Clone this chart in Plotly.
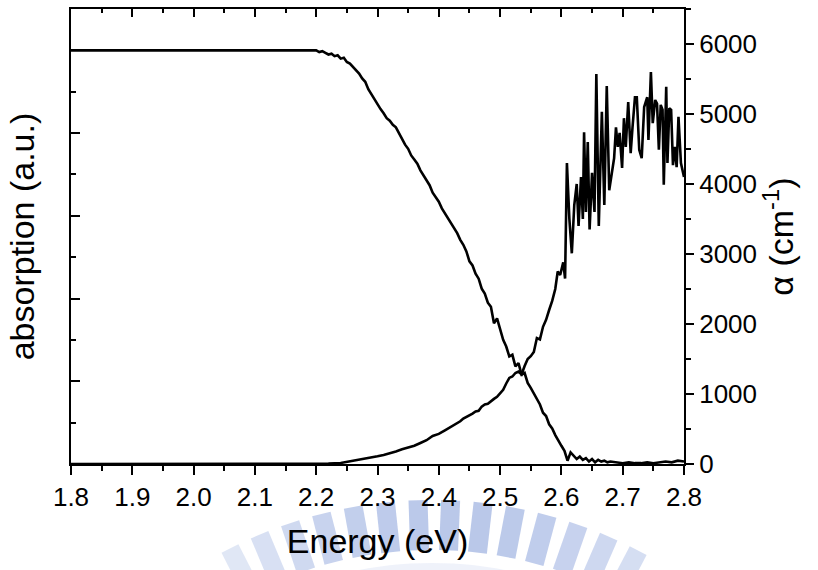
import math
import plotly.graph_objects as go

# ---------------- data ----------------
# absorption (a.u., left axis)
abs_energy = [1.80, 2.195,
              2.200, 2.205, 2.210, 2.215, 2.220, 2.225, 2.230, 2.235, 2.240, 2.245,
              2.250, 2.255, 2.260, 2.265, 2.270, 2.275, 2.280, 2.285, 2.290, 2.295,
              2.300, 2.305, 2.310, 2.315, 2.320, 2.325, 2.330, 2.335, 2.340, 2.345,
              2.350, 2.355, 2.360, 2.365, 2.370, 2.375, 2.380, 2.385, 2.390, 2.395,
              2.400, 2.405, 2.410, 2.415, 2.420, 2.425, 2.430, 2.435, 2.440, 2.445,
              2.450, 2.455, 2.460, 2.465, 2.470, 2.475, 2.480, 2.485, 2.490, 2.495,
              2.500, 2.505, 2.510, 2.515, 2.520, 2.525, 2.530, 2.535, 2.540, 2.545,
              2.550, 2.555, 2.560, 2.565, 2.570, 2.575, 2.580, 2.585, 2.590, 2.595,
              2.600, 2.605, 2.610, 2.615, 2.620, 2.625, 2.630, 2.635, 2.640, 2.645,
              2.650, 2.655, 2.660, 2.665, 2.670, 2.675, 2.680, 2.690, 2.700, 2.710,
              2.720, 2.730, 2.740, 2.750, 2.760, 2.770, 2.780, 2.790, 2.800]
abs_value = [5.00, 5.00,
             5.00, 4.98, 4.99, 4.97, 4.95, 4.96, 4.93, 4.94, 4.90, 4.91,
             4.86, 4.84, 4.80, 4.76, 4.72, 4.66, 4.62, 4.53, 4.47, 4.40,
             4.35, 4.29, 4.24, 4.18, 4.15, 4.10, 4.07, 4.00, 3.92, 3.86,
             3.81, 3.73, 3.68, 3.63, 3.55, 3.49, 3.42, 3.37, 3.28, 3.23,
             3.17, 3.09, 3.03, 2.96, 2.91, 2.84, 2.79, 2.71, 2.65, 2.57,
             2.45, 2.40, 2.30, 2.24, 2.12, 2.06, 1.95, 1.90, 1.70, 1.76,
             1.62, 1.50, 1.42, 1.30, 1.32, 1.18, 1.22, 1.08, 1.10, 0.98,
             0.92, 0.85, 0.78, 0.72, 0.62, 0.58, 0.48, 0.43, 0.35, 0.28,
             0.22, 0.16, 0.04, 0.14, 0.10, 0.06, 0.09, 0.05, 0.07, 0.03,
             0.06, 0.02, 0.05, 0.03, 0.04, 0.02, 0.03, 0.02, 0.01, 0.02,
             0.01, 0.01, 0.02, 0.01, 0.02, 0.03, 0.02, 0.04, 0.03]

# absorption coefficient alpha (cm^-1, right axis)
alpha_energy = [1.80, 2.20, 2.22, 2.24, 2.25, 2.26, 2.27, 2.28, 2.29, 2.30,
                2.31, 2.32, 2.33, 2.34, 2.35, 2.36, 2.37, 2.38, 2.39, 2.40,
                2.41, 2.42, 2.43, 2.435, 2.44, 2.445, 2.45, 2.455, 2.46, 2.465,
                2.47, 2.475, 2.48, 2.485, 2.49, 2.495, 2.50, 2.505, 2.51, 2.515,
                2.52, 2.525, 2.53, 2.535, 2.54, 2.545, 2.55, 2.555, 2.56, 2.565,
                2.57, 2.575, 2.58, 2.585, 2.59, 2.594, 2.598, 2.603, 2.606, 2.609,
                2.613, 2.617, 2.621, 2.625, 2.628, 2.632, 2.635, 2.637, 2.640, 2.643,
                2.646, 2.650, 2.654, 2.657, 2.661, 2.666, 2.670, 2.674, 2.678, 2.682,
                2.686, 2.689, 2.692, 2.695, 2.699, 2.702, 2.705, 2.709, 2.713, 2.716,
                2.720, 2.723, 2.727, 2.731, 2.735, 2.740, 2.742, 2.746, 2.749, 2.753,
                2.756, 2.759, 2.762, 2.765, 2.767, 2.771, 2.773, 2.776, 2.779, 2.782,
                2.785, 2.788, 2.791, 2.795, 2.800]
alpha_value = [0, 0, 5, 15, 30, 40, 55, 70, 90, 110,
               130, 150, 180, 210, 235, 260, 300, 340, 400, 430,
               480, 530, 580, 610, 650, 670, 700, 720, 750, 760,
               820, 850, 860, 900, 930, 960, 1010, 1060, 1150, 1230,
               1250, 1300, 1320, 1280, 1400, 1500, 1540, 1600, 1800, 1780,
               1960, 2060, 2200, 2330, 2500, 2750, 2700, 2880, 2650, 4300,
               3500, 3010, 3700, 4000, 3400, 4100, 3500, 4740, 3600, 4600,
               3350, 4160, 3600, 5570, 3400, 5030, 3700, 5400, 3910, 4130,
               4370, 4810, 4530, 4730, 4230, 4940, 4530, 5170, 4440, 4810,
               5240, 5240, 4490, 4370, 5100, 5240, 4630, 5600, 4870, 5200,
               5150, 4490, 5130, 5060, 3990, 5390, 4300, 5080, 5060, 4270,
               4530, 4240, 4960, 4300, 4100]

x_ticks = [1.8, 1.9, 2.0, 2.1, 2.2, 2.3, 2.4, 2.5, 2.6, 2.7, 2.8]
alpha_ticks = [0, 1000, 2000, 3000, 4000, 5000, 6000]

FONT = "Liberation Sans, Arial, sans-serif"

fig = go.Figure()
fig.add_trace(go.Scatter(x=abs_energy, y=abs_value, mode="lines",
                         line=dict(color="black", width=2.6), showlegend=False,
                         xaxis="x", yaxis="y"))
fig.add_trace(go.Scatter(x=alpha_energy, y=alpha_value, mode="lines",
                         line=dict(color="black", width=2.6), showlegend=False,
                         xaxis="x", yaxis="y2"))
# dummy trace so the top (mirror) axis is drawn
fig.add_trace(go.Scatter(x=[None], y=[None], mode="lines", showlegend=False,
                         hoverinfo="skip", xaxis="x2", yaxis="y"))

# ---------------- watermark (decoration) ----------------
L, R, T, B = 71, 684, 9, 464
def pp(x, y):
    return ((x - L) / (R - L), (B - y) / (B - T))

shapes = []
cx, cy = 432, 945
r1, r2, w = 445, 395, 19
angles = [-27 + 4.2 * k for k in range(14)]
for th in angles:
    t = math.radians(th)
    ux, uy = math.sin(t), -math.cos(t)
    vx, vy = math.cos(t), math.sin(t)
    pts = []
    for r, s in ((r1, -1), (r1, 1), (r2, 1), (r2, -1)):
        px = cx + r * ux + s * w / 2 * vx
        py = cy + r * uy + s * w / 2 * vy
        pts.append(pp(px, py))
    path = "M " + " L ".join(f"{a:.4f},{b:.4f}" for a, b in pts) + " Z"
    op = 0.14 + 0.34 * max(0.0, math.cos(math.radians((th - 3) * 2.6)))
    shapes.append(dict(type="path", path=path, xref="paper", yref="paper",
                       fillcolor=f"rgba(110,140,210,{op:.2f})", line=dict(width=0),
                       layer="below"))
# faint arc band
band = []
for k in range(41):
    th = math.radians(-32 + 64 * k / 40)
    band.append(pp(cx + 382 * math.sin(th), cy - 382 * math.cos(th)))
for k in range(41):
    th = math.radians(32 - 64 * k / 40)
    band.append(pp(cx + 362 * math.sin(th), cy - 362 * math.cos(th)))
shapes.append(dict(type="path",
                   path="M " + " L ".join(f"{a:.4f},{b:.4f}" for a, b in band) + " Z",
                   xref="paper", yref="paper", fillcolor="rgba(120,145,210,0.12)",
                   line=dict(width=0), layer="below"))

axis_common = dict(showgrid=False, zeroline=False, showline=True, linecolor="black",
                   linewidth=2, tickcolor="black", tickwidth=2)

fig.update_layout(
    width=818, height=570,
    margin=dict(l=L, r=818 - R, t=T, b=570 - B),
    paper_bgcolor="white", plot_bgcolor="rgba(0,0,0,0)",
    font=dict(family=FONT, color="black", size=26),
    shapes=shapes,
    xaxis=dict(range=[1.8, 2.8], tickvals=x_ticks, ticktext=[f"{v:.1f}" for v in x_ticks],
               ticks="outside", ticklen=9,
               minor=dict(dtick=0.05, tick0=1.8, ticks="outside", ticklen=5,
                          tickwidth=2, tickcolor="black"),
               tickfont=dict(size=26, family=FONT),
               title=dict(text="Energy (eV)", font=dict(size=34, family=FONT), standoff=18),
               **axis_common),
    xaxis2=dict(range=[1.8, 2.8], overlaying="x", side="top", anchor="y",
                tickvals=x_ticks, showticklabels=False, ticks="inside", ticklen=8,
                minor=dict(dtick=0.05, tick0=1.8, ticks="inside", ticklen=4,
                           tickwidth=2, tickcolor="black"),
                **axis_common),
    yaxis=dict(range=[0, 5.5], dtick=1, tick0=0, showticklabels=False,
               ticks="inside", ticklen=9,
               minor=dict(dtick=0.5, ticks="inside", ticklen=5, tickwidth=2,
                          tickcolor="black"),
               title=dict(text="absorption (a.u.)", font=dict(size=34, family=FONT),
                          standoff=24),
               **axis_common),
    yaxis2=dict(range=[0, 6500], overlaying="y", side="right", anchor="x",
                tickvals=alpha_ticks, ticks="outside", ticklen=8,
                minor=dict(dtick=500, ticks="outside", ticklen=5, tickwidth=2,
                           tickcolor="black"),
                tickfont=dict(size=26, family=FONT),
                title=dict(text="α (cm<sup>-1</sup>)", font=dict(size=34, family=FONT),
                           standoff=12),
                **axis_common),
)

fig.write_html("out.html")
